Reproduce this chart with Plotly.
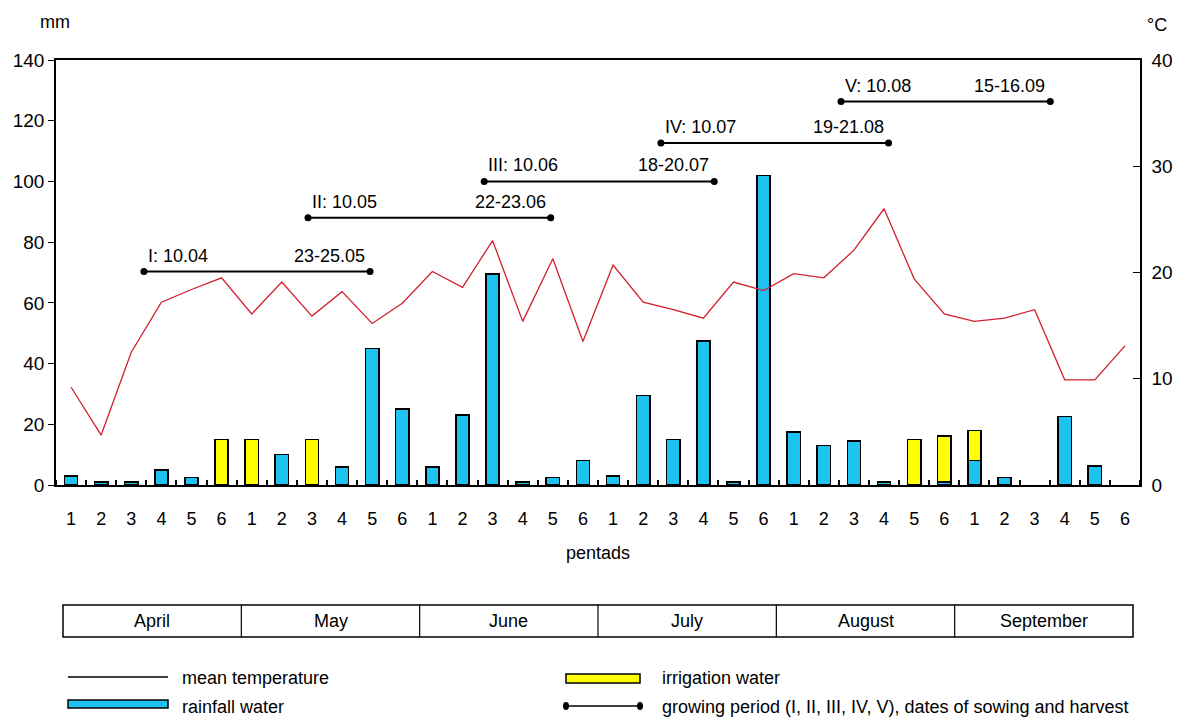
import plotly.graph_objects as go

# ---------------- data ----------------
months = ["April", "May", "June", "July", "August", "September"]
pentad_labels = ["1", "2", "3", "4", "5", "6"] * 6

rainfall = [3, 1, 1, 5, 2.5, None,
            None, 10, None, 6, 45, 25,
            6, 23, 69.5, 1, 2.5, 8,
            3, 29.5, 15, 47.5, 1, 102,
            17.5, 13, 14.5, 1, None, 1,
            8, 2.5, None, 22.5, 6.3, None]
irrigation = [None, None, None, None, None, 15,
              15, None, 15, None, None, None,
              None, None, None, None, None, None,
              None, None, None, None, None, None,
              None, None, None, None, 15, 15.2,
              10, None, None, None, None, None]
temperature = [9.2, 4.7, 12.5, 17.2, 18.4, 19.5,
               16.1, 19.1, 15.9, 18.2, 15.2, 17.1,
               20.1, 18.6, 23.0, 15.4, 21.3, 13.5,
               20.7, 17.2, 16.5, 15.7, 19.1, 18.3,
               19.9, 19.5, 22.1, 26.0, 19.4, 16.1,
               15.4, 15.7, 16.5, 9.9, 9.9, 13.1]

periods = ["I", "II", "III", "IV", "V"]
sowing = ["10.04", "10.05", "10.06", "10.07", "10.08"]
harvest = ["23-25.05", "22-23.06", "18-20.07", "19-21.08", "15-16.09"]
period_start = [2.42, 7.87, 13.72, 19.59, 25.57]   # pentad index units
period_end = [9.93, 15.93, 21.36, 27.15, 32.52]
period_level = [70.3, 88, 100, 112.7, 126.3]        # mm (left axis)

# ---------------- styling ----------------
FONT = "Liberation Sans, Arial, sans-serif"
BLUE = "#1DC2EF"
YELLOW = "#FFFF00"
RED = "#D0202E"

W, H = 1181, 720
L, R, T, B = 56, 41, 60, 235
PW, PH = W - L - R, H - T - B


def px(xp):
    return (xp - L) / PW


def py(yp):
    return (H - B - yp) / PH


x = list(range(len(pentad_labels)))
rain_x = [i for i in x if rainfall[i] is not None]
rain_y = [rainfall[i] for i in rain_x]
irr_x = [i for i in x if irrigation[i] is not None]
irr_y = [irrigation[i] for i in irr_x]

fig = go.Figure()

fig.add_trace(go.Bar(x=rain_x, y=rain_y, width=0.44,
                     marker=dict(color=BLUE, line=dict(color="black", width=1.5)),
                     name="rainfall water", yaxis="y"))
fig.add_trace(go.Bar(x=irr_x, y=irr_y, width=0.44,
                     marker=dict(color=YELLOW, line=dict(color="black", width=1.5)),
                     name="irrigation water", yaxis="y"))
fig.add_trace(go.Scatter(x=x, y=temperature, mode="lines", line=dict(color=RED, width=1.3),
                         name="mean temperature", yaxis="y2"))

TXT = dict(family=FONT, size=18, color="black")
annotations = []
for i, p in enumerate(periods):
    fig.add_trace(go.Scatter(x=[period_start[i], period_end[i]], y=[period_level[i], period_level[i]],
                             mode="lines+markers", line=dict(color="black", width=2),
                             marker=dict(color="black", size=7, symbol="circle"),
                             yaxis="y", showlegend=False))
    annotations.append(dict(x=period_start[i], y=period_level[i], xref="x", yref="y",
                            text=f"{p}: {sowing[i]}", showarrow=False, xanchor="left", yanchor="bottom",
                            xshift=2, yshift=4, font=TXT))
    annotations.append(dict(x=period_end[i], y=period_level[i], xref="x", yref="y",
                            text=harvest[i], showarrow=False, xanchor="right", yanchor="bottom",
                            xshift=-3, yshift=4, font=TXT))


def label(text, xx, yy, xanchor="center"):
    return dict(x=px(xx), y=py(yy), xref="paper", yref="paper", text=text, showarrow=False,
                xanchor=xanchor, yanchor="middle", font=TXT)


# axis unit labels & title
annotations += [label("mm", 55, 22), label("°C", 1157, 25), label("pentads", 598, 553)]

shapes = []
# month table
tab_l, tab_r, tab_t, tab_b = 63, 1133, 605, 637
shapes.append(dict(type="rect", xref="paper", yref="paper", x0=px(tab_l), x1=px(tab_r),
                   y0=py(tab_b), y1=py(tab_t), line=dict(color="black", width=1.5)))
cell = (tab_r - tab_l) / len(months)
for k, m in enumerate(months):
    if k > 0:
        xx = tab_l + k * cell
        shapes.append(dict(type="line", xref="paper", yref="paper", x0=px(xx), x1=px(xx),
                           y0=py(tab_b), y1=py(tab_t), line=dict(color="black", width=1.2)))
    annotations.append(label(m, tab_l + (k + 0.5) * cell, (tab_t + tab_b) / 2))

# custom legend
shapes += [
    dict(type="line", xref="paper", yref="paper", x0=px(68), x1=px(168), y0=py(677), y1=py(677),
         line=dict(color="black", width=1.5)),
    dict(type="rect", xref="paper", yref="paper", x0=px(68), x1=px(168), y0=py(708), y1=py(700),
         fillcolor=BLUE, line=dict(color="black", width=1.5)),
    dict(type="rect", xref="paper", yref="paper", x0=px(566), x1=px(640), y0=py(683), y1=py(674),
         fillcolor=YELLOW, line=dict(color="black", width=1.5)),
    dict(type="line", xref="paper", yref="paper", x0=px(566), x1=px(640), y0=py(706), y1=py(706),
         line=dict(color="black", width=1.5)),
    dict(type="circle", xref="paper", yref="paper", x0=px(563), x1=px(569), y0=py(710), y1=py(702),
         fillcolor="black", line=dict(color="black", width=0)),
    dict(type="circle", xref="paper", yref="paper", x0=px(637), x1=px(643), y0=py(710), y1=py(702),
         fillcolor="black", line=dict(color="black", width=0)),
]
for txt, xx, yy in [("mean temperature", 180, 678), ("rainfall water", 180, 707),
                    ("irrigation water", 660, 678),
                    ("growing period (I, II, III, IV, V), dates of sowing and harvest", 660, 707)]:
    annotations.append(label(txt, xx, yy, xanchor="left"))

fig.update_layout(
    width=W, height=H,
    margin=dict(l=L, r=R, t=T, b=B, autoexpand=False),
    paper_bgcolor="white", plot_bgcolor="white",
    barmode="stack", showlegend=False,
    font=dict(family=FONT, size=18, color="black"),
    xaxis=dict(range=[-0.5, 35.5], tickvals=x, ticktext=pentad_labels, ticks="",
               showline=True, linecolor="black", linewidth=1.5, mirror=True,
               showgrid=False, zeroline=False, ticklabelstandoff=17,
               tickfont=dict(family=FONT, size=18, color="black"),
               minor=dict(ticks="inside", tick0=-0.5, dtick=1, ticklen=5, tickcolor="black", tickwidth=1.5,
                          showgrid=False)),
    yaxis=dict(range=[0, 140], tickvals=[0, 20, 40, 60, 80, 100, 120, 140], ticks="outside", ticklen=6,
               tickcolor="black", showline=True, linecolor="black", linewidth=1.5, showgrid=False,
               zeroline=False, tickfont=dict(family=FONT, size=19, color="black")),
    yaxis2=dict(range=[0, 40], tickvals=[0, 10, 20, 30, 40], overlaying="y", side="right",
                ticks="inside", ticklen=7, tickcolor="black", showline=True, linecolor="black",
                linewidth=1.5, showgrid=False, zeroline=False, ticklabelstandoff=6,
                tickfont=dict(family=FONT, size=19, color="black")),
    annotations=annotations, shapes=shapes,
)

fig.write_html("out.html", config={"displayModeBar": False},
               post_script="document.body.style.margin='0';")
